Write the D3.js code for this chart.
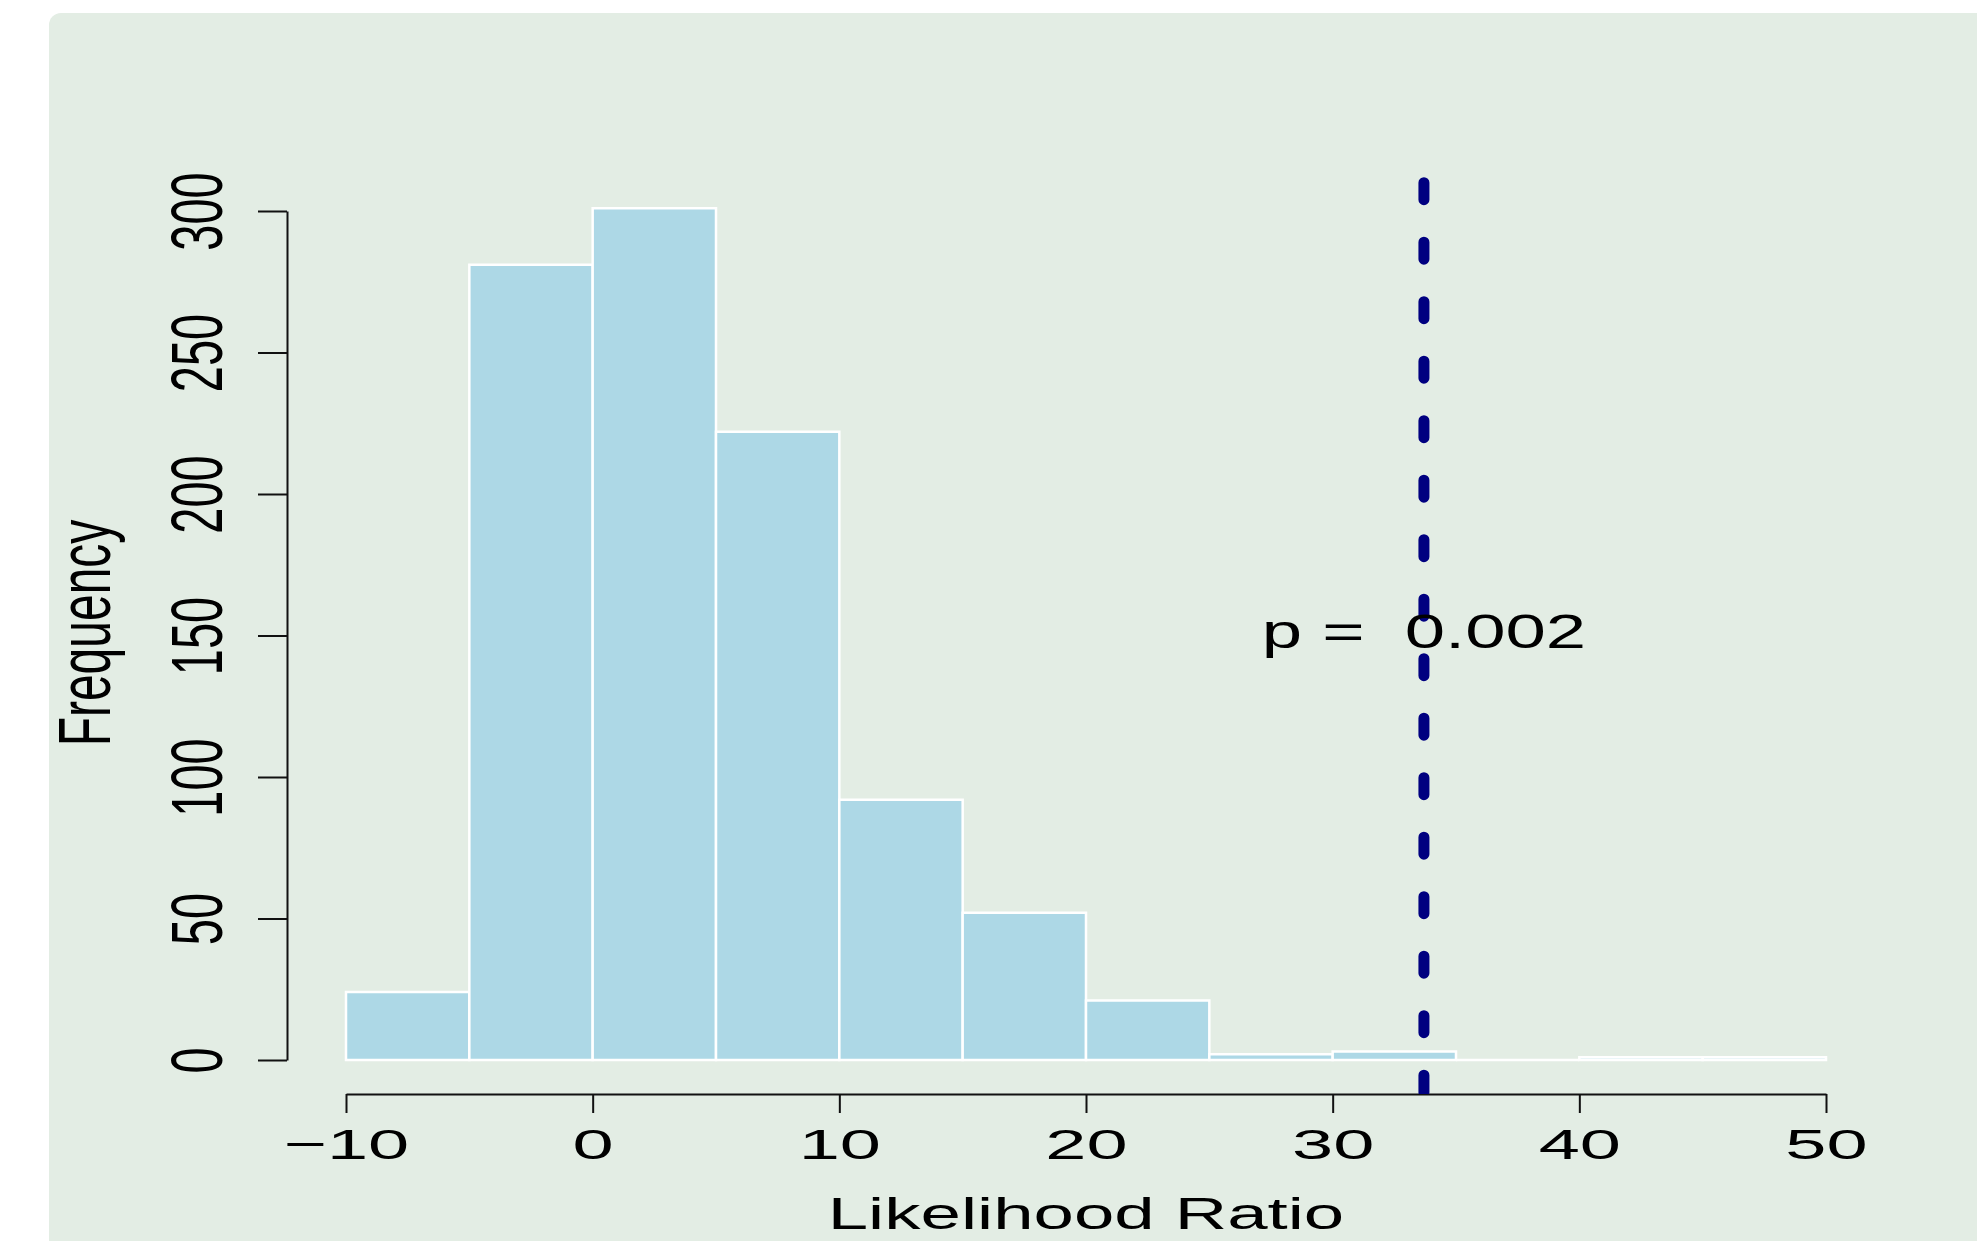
<!DOCTYPE html>
<html>
<head>
<meta charset="utf-8">
<script src="https://cdnjs.cloudflare.com/ajax/libs/d3/7.8.5/d3.min.js"></script>
<style>
  html, body { margin: 0; padding: 0; background: #fff; }
  svg { display: block; }
</style>
</head>
<body>
<div id="playground"></div>
<script>
// Histogram data (bins of width 5)
var binLower = [-10, -5, 0, 5, 10, 15, 20, 25, 30, 35, 40, 45]
var binUpper = [-5, 0, 5, 10, 15, 20, 25, 30, 35, 40, 45, 50]
var counts = [24, 281, 301, 222, 92, 52, 21, 2, 3, 0, 1, 1]

// Axes
var xTicks = [-10, 0, 10, 20, 30, 40, 50]
var yTicks = [0, 50, 100, 150, 200, 250, 300]
var xLabel = 'Likelihood Ratio'
var yLabel = 'Frequency'

// Observed statistic
var observed = 33.7
var pLabel = 'p =  0.002'

var settings = {}
settings.width = 1977
settings.height = 1241
settings.font = 'Liberation Sans, Arial, Helvetica, sans-serif'
settings.bg = '#e3ede4'
settings.bar_fill = '#add8e6'

var svg = d3.select('#playground').append('svg')
  .attr('width', settings.width)
  .attr('height', settings.height)

// Panel background (rounded top-left corner, runs off the page)
svg.append('rect')
  .attr('x', 49)
  .attr('y', 13)
  .attr('width', settings.width)
  .attr('height', settings.height)
  .attr('rx', 12)
  .attr('fill', settings.bg)

var x = d3.scaleLinear().domain([-10, 50]).range([346, 1826])
var y = d3.scaleLinear().domain([0, 300]).range([1060, 211])

// Bars (paths, so that empty bins still show their outline)
counts.forEach(function(c, i){
  var p = d3.path()
  p.moveTo(x(binLower[i]), y(0))
  p.lineTo(x(binUpper[i]), y(0))
  p.lineTo(x(binUpper[i]), y(c))
  p.lineTo(x(binLower[i]), y(c))
  p.closePath()
  svg.append('path')
    .attr('d', p.toString())
    .attr('fill', settings.bar_fill)
    .attr('stroke', '#fff')
    .attr('stroke-width', 2.5)
})

// X axis
var gx = svg.append('g')
  .attr('transform', 'translate(0,1094)')
  .call(d3.axisBottom(x).tickValues(xTicks).tickSize(19).tickSizeOuter(0))
gx.select('.domain').attr('stroke', '#111').attr('stroke-width', 2)
gx.selectAll('.tick line').attr('stroke', '#111').attr('stroke-width', 2)
gx.selectAll('.tick text')
  .attr('y', null)
  .attr('dy', null)
  .attr('fill', '#000')
  .attr('font-family', settings.font)
  .attr('font-size', 43)
  .attr('transform', 'translate(0,65) scale(1.72,1)')

// Y axis
var gy = svg.append('g')
  .attr('transform', 'translate(287,0)')
  .call(d3.axisLeft(y).tickValues(yTicks).tickSize(29).tickSizeOuter(0))
gy.select('.domain').attr('stroke', '#111').attr('stroke-width', 2)
gy.selectAll('.tick line').attr('stroke', '#111').attr('stroke-width', 2)
gy.selectAll('.tick text')
  .attr('x', null)
  .attr('dy', null)
  .attr('fill', '#000')
  .attr('text-anchor', 'middle')
  .attr('font-family', settings.font)
  .attr('font-size', 47)
  .attr('transform', 'translate(-65,0) scale(1.52,1) rotate(-90)')

// Axis titles
svg.append('text')
  .attr('transform', 'translate(1086,1229) scale(1.65,1)')
  .attr('text-anchor', 'middle')
  .attr('font-family', settings.font)
  .attr('font-size', 44)
  .text(xLabel)

svg.append('text')
  .attr('transform', 'translate(110,633) scale(1.53,1) rotate(-90)')
  .attr('text-anchor', 'middle')
  .attr('font-family', settings.font)
  .attr('font-size', 48)
  .text(yLabel)

// Observed value line, clipped at the plot bottom
svg.append('clipPath').attr('id', 'plotclip')
  .append('rect')
  .attr('x', 0).attr('y', 0)
  .attr('width', settings.width).attr('height', 1094)

svg.append('line')
  .attr('clip-path', 'url(#plotclip)')
  .attr('x1', x(observed)).attr('x2', x(observed))
  .attr('y1', y(310)).attr('y2', y(-14))
  .attr('stroke', 'navy')
  .attr('stroke-width', 11)
  .attr('stroke-linecap', 'round')
  .attr('stroke-dasharray', '17 42.5')

// p-value label
svg.append('text')
  .attr('transform', 'translate(' + x(observed) + ',648) scale(1.48,1)')
  .attr('text-anchor', 'middle')
  .attr('font-family', settings.font)
  .attr('font-size', 49)
  .attr('xml:space', 'preserve')
  .style('white-space', 'pre')
  .text(pLabel)
</script>
</body>
</html>
